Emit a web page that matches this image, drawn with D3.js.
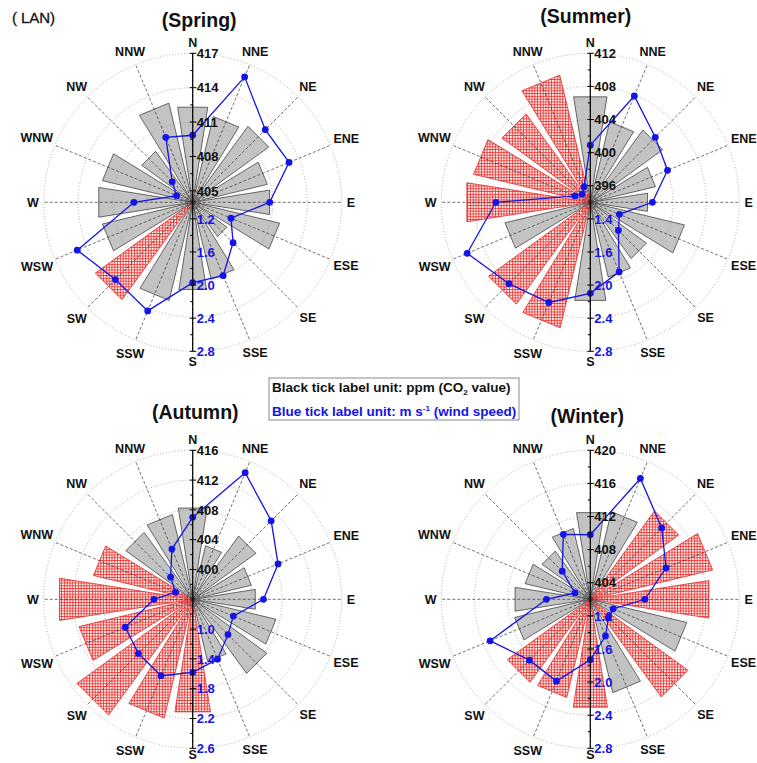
<!DOCTYPE html>
<html>
<head>
<meta charset="utf-8">
<script src="https://cdn.jsdelivr.net/npm/d3@7"></script>
<style>
  body { margin: 0; background: #fff; }
  svg { display: block; font-family: "Liberation Sans", Arial, sans-serif; }
</style>
</head>
<body>
<svg id="chart" width="757" height="763"></svg>
<script>
// 16 compass sectors, clockwise from north
const directions = ["N","NNE","NE","ENE","E","ESE","SE","SSE","S","SSW","SW","WSW","W","WNW","NW","NNW"];

// mean CO2 (ppm) by wind direction
const springCO2 = [412.4, 411.7, 412.2, 410.7, 410.8, 411.8, 407.7, 410.9, 411.7, 412.8, 414.5, 412.1, 412.3, 412.1, 409.5, 412.9];
const summerCO2 = [406.9, 404.0, 404.8, 402.1, 401.0, 405.7, 402.4, 403.3, 406.0, 409.6, 409.2, 404.6, 409.1, 408.5, 407.2, 409.8];
const autumnCO2 = [408.4, 403.4, 406.5, 404.1, 404.5, 407.5, 408.3, 404.6, 411.3, 412.4, 415.2, 411.7, 414.1, 409.7, 407.1, 407.7];
const winterCO2 = [412.6, 412.9, 415.2, 417.2, 416.5, 414.0, 416.6, 413.6, 415.2, 414.2, 414.4, 411.4, 411.2, 410.1, 409.2, 410.8];

// mean wind speed (m s-1) by wind direction
const springWind = [1.81, 2.64, 2.24, 2.26, 1.93, 1.50, 1.69, 1.96, 1.97, 2.42, 2.32, 2.51, 1.71, 1.21, 1.35, 1.85];
const summerWind = [1.69, 2.39, 2.11, 2.01, 1.75, 1.38, 1.48, 1.91, 2.10, 2.31, 2.39, 2.61, 2.14, 1.20, 1.14, 1.20];
const autumnWind = [1.70, 2.44, 2.09, 1.84, 1.55, 1.19, 1.27, 1.47, 1.58, 1.71, 1.63, 1.58, 1.12, 0.85, 1.02, 1.33];
const winterWind = [1.78, 2.58, 2.22, 1.99, 1.66, 1.30, 1.31, 1.48, 1.73, 2.07, 2.04, 2.31, 1.53, 1.20, 1.48, 1.85];

// sectors whose CO2 bars are drawn with the red hatch
const springHigh = ["SW"];
const summerHigh = ["SSW","SW","W","WNW","NW","NNW"];
const autumnHigh = ["S","SSW","SW","WSW","W","WNW"];
const winterHigh = ["NE","ENE","E","SE","S","SSW","SW"];

// radial axis ranges
const springCO2Domain = [404, 417];
const summerCO2Domain = [394, 412];
const autumnCO2Domain = [396, 416];
const winterCO2Domain = [402, 420];
const springWindDomain = [1.0, 2.8];
const summerWindDomain = [1.0, 2.8];
const autumnWindDomain = [0.6, 2.6];
const winterWindDomain = [1.0, 2.8];

// tick values and labels (black: CO2 upward, blue: wind speed downward)
const springCO2Ticks = [405, 408, 411, 414, 417];
const summerCO2Ticks = [396, 400, 404, 408, 412];
const autumnCO2Ticks = [400, 404, 408, 412, 416];
const winterCO2Ticks = [404, 408, 412, 416, 420];
const springWindTicks = [1.2, 1.6, 2.0, 2.4, 2.8];
const summerWindTicks = [1.2, 1.6, 2.0, 2.4, 2.8];
const autumnWindTicks = [1.0, 1.4, 1.8, 2.2, 2.6];
const winterWindTicks = [1.2, 1.6, 2.0, 2.4, 2.8];
const springWindTickLabels = ["1.2", "1.6", "2.0", "2.4", "2.8"];
const summerWindTickLabels = ["1.4", "1.6", "2.0", "2.4", "2.8"];
const autumnWindTickLabels = ["1.0", "1.4", "1.8", "2.2", "2.6"];
const winterWindTickLabels = ["1.2", "1.6", "2.0", "2.4", "2.8"];

const seasonTitles = ["(Spring)", "(Summer)", "(Autumn)", "(Winter)"];

const panels = [
  { title: seasonTitles[0], co2: springCO2, wind: springWind, high: springHigh,
    co2Domain: springCO2Domain, windDomain: springWindDomain, co2Ticks: springCO2Ticks,
    windTicks: springWindTicks, windLabels: springWindTickLabels,
    cx: 192.7, cy: 202.3, tx: 199.2, ty: 26.6 },
  { title: seasonTitles[1], co2: summerCO2, wind: summerWind, high: summerHigh,
    co2Domain: summerCO2Domain, windDomain: summerWindDomain, co2Ticks: summerCO2Ticks,
    windTicks: summerWindTicks, windLabels: summerWindTickLabels,
    cx: 590.3, cy: 202.3, tx: 585.8, ty: 23.2 },
  { title: seasonTitles[2], co2: autumnCO2, wind: autumnWind, high: autumnHigh,
    co2Domain: autumnCO2Domain, windDomain: autumnWindDomain, co2Ticks: autumnCO2Ticks,
    windTicks: autumnWindTicks, windLabels: autumnWindTickLabels,
    cx: 192.7, cy: 599.3, tx: 195.3, ty: 419.2 },
  { title: seasonTitles[3], co2: winterCO2, wind: winterWind, high: winterHigh,
    co2Domain: winterCO2Domain, windDomain: winterWindDomain, co2Ticks: winterCO2Ticks,
    windTicks: winterWindTicks, windLabels: winterWindTickLabels,
    cx: 590.3, cy: 599.3, tx: 587.2, ty: 422.6 }
];

const W = 757, H = 763;
const R = 149;                       // outer radius of each rose
const step = 2 * Math.PI / directions.length;
const halfWedge = 9 * Math.PI / 180; // half opening of a bar
const BLUE = "#1414e6";

const svg = d3.select("#chart");

// red cross-hatch fill
const defs = svg.append("defs");
const pat = defs.append("pattern")
  .attr("id", "hatch").attr("patternUnits", "userSpaceOnUse")
  .attr("width", 2.8).attr("height", 2.8);
pat.append("rect").attr("width", 2.8).attr("height", 2.8).attr("fill", "#fff2f2");
pat.append("path").attr("d", "M0,0.5H2.8M0.5,0V2.8")
  .attr("stroke", "#e8302c").attr("stroke-width", 0.85).attr("fill", "none");

panels.forEach(p => {
  const g = svg.append("g").attr("transform", `translate(${p.cx},${p.cy})`);
  const rCO2 = d3.scaleLinear().domain(p.co2Domain).range([0, R]);
  const rWind = d3.scaleLinear().domain(p.windDomain).range([0, R]);
  const angle = i => i * step;

  // CO2 bars: triangular wedges from the centre
  g.append("g").selectAll("path").data(p.co2).join("path")
    .attr("d", (v, i) => {
      const r = rCO2(v);
      const a = d3.pointRadial(angle(i) - halfWedge, r);
      const b = d3.pointRadial(angle(i) + halfWedge, r);
      return d3.line()([[0, 0], a, b]) + "Z";
    })
    .attr("fill", (v, i) => p.high.includes(directions[i]) ? "url(#hatch)" : "#c3c3c3")
    .attr("stroke", (v, i) => p.high.includes(directions[i]) ? "#e02020" : "#3c3c3c")
    .attr("stroke-width", 0.75);

  // grid circles
  g.append("g").selectAll("circle").data(p.co2Ticks).join("circle")
    .attr("r", d => rCO2(d))
    .attr("fill", "none").attr("stroke", "#9a9a9a")
    .attr("stroke-width", 0.8).attr("stroke-dasharray", "1,2");

  // radial sector lines
  g.append("g").selectAll("line").data(directions).join("line")
    .attr("x1", 0).attr("y1", 0)
    .attr("x2", (d, i) => d3.pointRadial(angle(i), R)[0])
    .attr("y2", (d, i) => d3.pointRadial(angle(i), R)[1])
    .attr("stroke", "#333").attr("stroke-width", 0.7).attr("stroke-dasharray", "3,2");

  // wind speed polygon
  const windLine = d3.lineRadial()
    .angle((v, i) => angle(i))
    .radius(v => rWind(v))
    .curve(d3.curveLinearClosed);
  g.append("path").attr("d", windLine(p.wind))
    .attr("fill", "none").attr("stroke", BLUE).attr("stroke-width", 1.3);
  g.append("g").selectAll("circle").data(p.wind).join("circle")
    .attr("cx", (v, i) => d3.pointRadial(angle(i), rWind(v))[0])
    .attr("cy", (v, i) => d3.pointRadial(angle(i), rWind(v))[1])
    .attr("r", 3.4).attr("fill", BLUE);

  // vertical N-S axis with ticks
  const axis = g.append("g");
  axis.append("line").attr("x1", 0).attr("x2", 0).attr("y1", -R).attr("y2", R)
    .attr("stroke", "#000").attr("stroke-width", 1.2);
  const co2Step = p.co2Ticks[1] - p.co2Ticks[0];
  const windStep = p.windTicks[1] - p.windTicks[0];
  const co2Minor = p.co2Ticks.map(t => t - co2Step / 2).filter(t => t > p.co2Domain[0]);
  const windMinor = p.windTicks.map(t => t - windStep / 2).filter(t => t > p.windDomain[0]);
  axis.selectAll(".maj-up").data(p.co2Ticks).join("line")
    .attr("x1", -3).attr("x2", 3.5).attr("y1", d => -rCO2(d)).attr("y2", d => -rCO2(d))
    .attr("stroke", "#000").attr("stroke-width", 1);
  axis.selectAll(".maj-dn").data(p.windTicks).join("line")
    .attr("x1", -3).attr("x2", 3.5).attr("y1", d => rWind(d)).attr("y2", d => rWind(d))
    .attr("stroke", "#000").attr("stroke-width", 1);
  axis.selectAll(".min-up").data(co2Minor).join("line")
    .attr("x1", -2.5).attr("x2", 0).attr("y1", d => -rCO2(d)).attr("y2", d => -rCO2(d))
    .attr("stroke", "#000").attr("stroke-width", 1);
  axis.selectAll(".min-dn").data(windMinor).join("line")
    .attr("x1", -2.5).attr("x2", 0).attr("y1", d => rWind(d)).attr("y2", d => rWind(d))
    .attr("stroke", "#000").attr("stroke-width", 1);

  axis.selectAll(".lab-up").data(p.co2Ticks).join("text")
    .attr("x", 4).attr("y", d => -rCO2(d)).attr("dy", "0.36em")
    .attr("font-size", 13).attr("font-weight", "bold").attr("fill", "#111")
    .text(d => d);
  axis.selectAll(".lab-dn").data(p.windTicks).join("text")
    .attr("x", 4).attr("y", d => rWind(d)).attr("dy", "0.36em")
    .attr("font-size", 13).attr("font-weight", "bold").attr("fill", BLUE)
    .text((d, i) => p.windLabels[i]);

  // compass labels (kept inside the drawing area)
  directions.forEach((d, i) => {
    const t = g.append("text")
      .attr("font-size", 12.5).attr("font-weight", "bold").attr("fill", "#111")
      .attr("text-anchor", "middle").attr("dy", "0.36em").text(d);
    const w = t.node().getComputedTextLength();
    const a = angle(i);
    const rr = 155 + 0.8 * Math.abs(Math.sin(a)) * w / 2 + 4.5 * Math.abs(Math.cos(a));
    const [x, y] = d3.pointRadial(a, rr);
    const yMax = H - 8 - p.cy;
    t.attr("x", x).attr("y", Math.min(y, yMax));
  });

  // season title
  svg.append("text").attr("x", p.tx).attr("y", p.ty)
    .attr("text-anchor", "middle").attr("font-size", 19.5).attr("font-weight", "bold")
    .attr("fill", "#111").text(p.title);
});

// site tag
svg.append("text").attr("x", 12).attr("y", 23)
  .attr("font-size", 15).attr("fill", "#111")
  .attr("stroke", "#111").attr("stroke-width", 0.3)
  .attr("textLength", 43).attr("lengthAdjust", "spacing")
  .text("( LAN)");

// unit legend
const leg = svg.append("g");
leg.append("rect").attr("x", 269).attr("y", 378).attr("width", 250).attr("height", 42)
  .attr("fill", "#fff").attr("stroke", "#8a8a8a").attr("stroke-width", 1);
const l1 = leg.append("text").attr("x", 272).attr("y", 392)
  .attr("font-size", 13.5).attr("font-weight", "bold").attr("fill", "#111");
l1.append("tspan").text("Black tick label unit: ppm (CO");
l1.append("tspan").attr("font-size", 8).attr("dy", 3).text("2");
l1.append("tspan").attr("dy", -3).text(" value)");
const l2 = leg.append("text").attr("x", 272).attr("y", 415.5)
  .attr("font-size", 13.5).attr("font-weight", "bold").attr("fill", BLUE);
l2.append("tspan").text("Blue tick label unit: m s");
l2.append("tspan").attr("font-size", 8).attr("dy", -5).text("-1");
l2.append("tspan").attr("dy", 5).text(" (wind speed)");
</script>
</body>
</html>
